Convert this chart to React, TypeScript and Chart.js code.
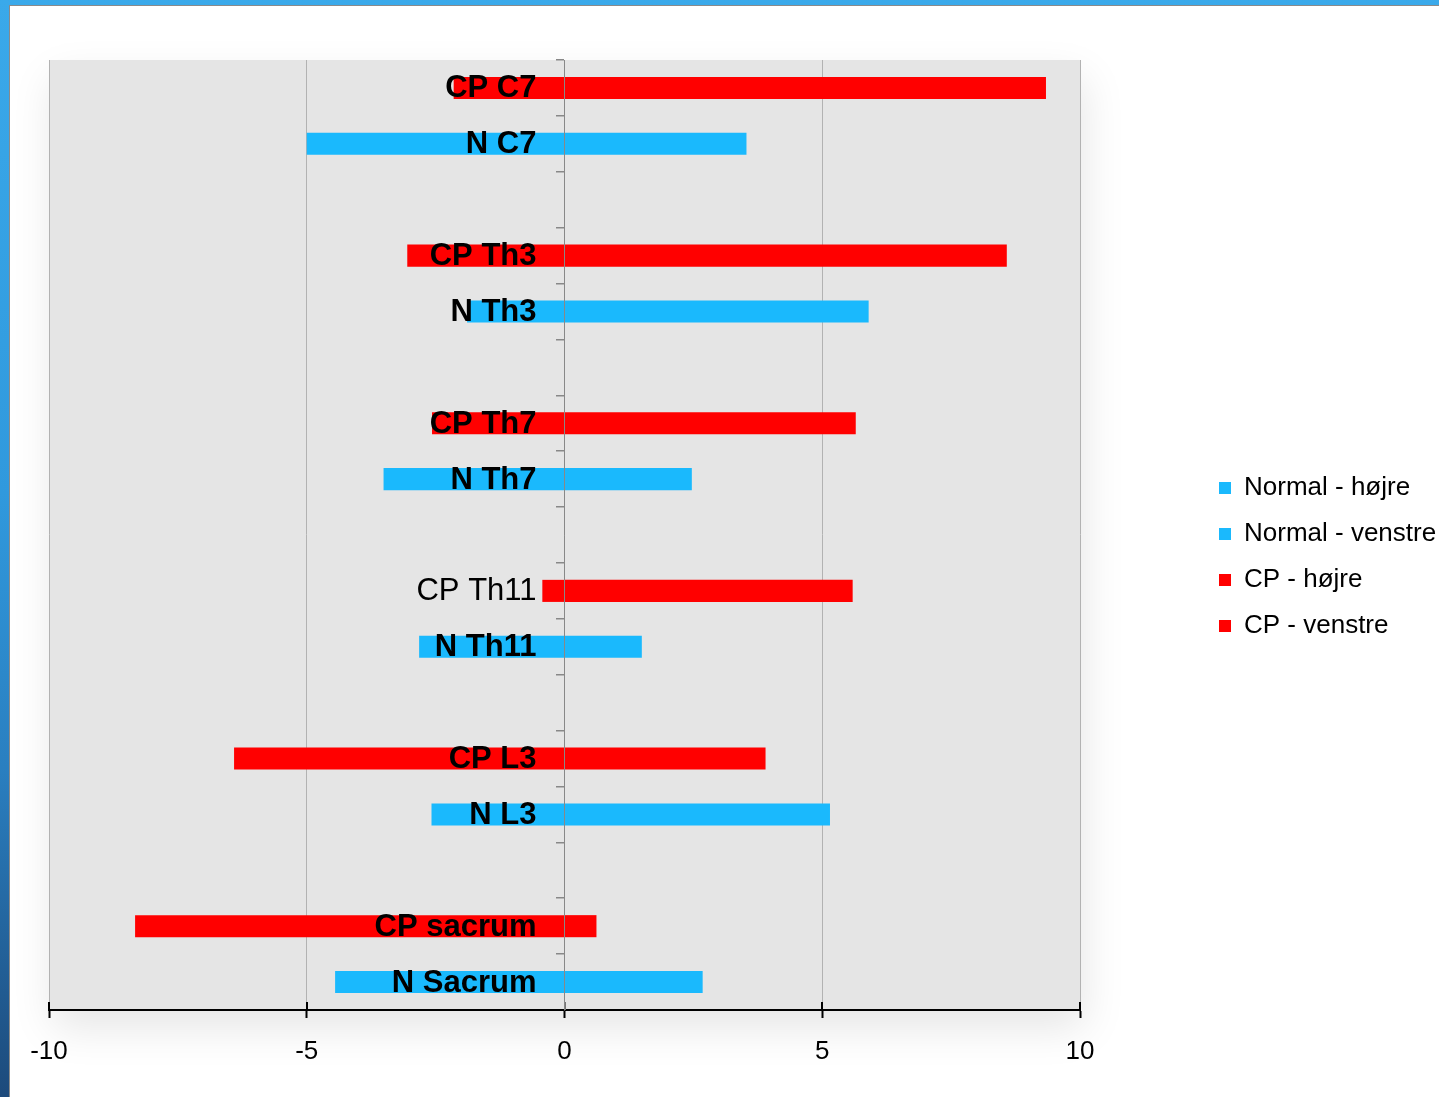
import React, { useEffect, useRef } from "react";
import { Chart, registerables } from "chart.js";

Chart.register(...registerables);

// Vertebral levels, CP and normal rows with an empty spacer row between groups
const categories = [
  "CP C7", "N C7", "",
  "CP Th3", "N Th3", "",
  "CP Th7", "N Th7", "",
  "CP Th11", "N Th11", "",
  "CP L3", "N L3", "",
  "CP sacrum", "N Sacrum",
];

const normalRight = [null, 3.53, null, null, 5.9, null, null, 2.47, null, null, 1.5, null, null, 5.15, null, null, 2.68];
const normalLeft = [null, -5.0, null, null, -1.89, null, null, -3.51, null, null, -2.82, null, null, -2.58, null, null, -4.45];
const cpRight = [9.34, null, null, 8.58, null, null, 5.65, null, null, 5.59, null, null, 3.9, null, null, 0.62, null];
const cpLeft = [-2.15, null, null, -3.05, null, null, -2.57, null, null, -0.43, null, null, -6.41, null, null, -8.33, null];

const seriesNames = ["Normal - højre", "Normal - venstre", "CP - højre", "CP - venstre"];
const xTicks = [-10, -5, 0, 5, 10];

const BLUE = "#1ab9fd";
const RED = "#ff0000";
const FONT = "'Liberation Sans', Arial, sans-serif";

// Grey plot panel with a soft drop shadow underneath
const panelPlugin = {
  id: "panel",
  afterLayout(chart: any) {
    // let the longest legend entry run to the canvas edge instead of being clipped
    if (chart.legend) chart.legend.right = chart.width;
  },
  beforeDraw(chart: any) {
    const { ctx, chartArea } = chart;
    ctx.save();
    ctx.shadowColor = "rgba(0,0,0,0.10)";
    ctx.shadowBlur = 40;
    ctx.shadowOffsetX = 4;
    ctx.shadowOffsetY = 18;
    ctx.fillStyle = "#e5e5e5";
    ctx.fillRect(chartArea.left, chartArea.top, chartArea.right - chartArea.left, chartArea.bottom - chartArea.top);
    ctx.restore();
  },
};

// Category names sit just left of the zero line, on top of the bars;
// major tick marks on the value axis cross the axis line
const overlayPlugin = {
  id: "overlay",
  afterDatasetsDraw(chart: any) {
    const { ctx, chartArea } = chart;
    const xs = chart.scales.x;
    const ys = chart.scales.y;
    const zero = xs.getPixelForValue(0);
    ctx.save();
    ctx.fillStyle = "#000";
    ctx.textAlign = "right";
    ctx.textBaseline = "middle";
    categories.forEach((name, i) => {
      if (!name) return;
      const weight = name === "CP Th11" ? "normal" : "bold";
      ctx.font = `${weight} 31px ${FONT}`;
      ctx.fillText(name, zero - 28, ys.getPixelForValue(i) + 1);
    });
    ctx.lineWidth = 2;
    for (const v of xTicks) {
      const px = Math.round(xs.getPixelForValue(v));
      ctx.strokeStyle = v === 0 ? "#777" : "#000";
      ctx.beginPath();
      ctx.moveTo(px, chartArea.bottom - 8);
      ctx.lineTo(px, chartArea.bottom);
      ctx.stroke();
    }
    ctx.restore();
  },
};

export default function App() {
  const canvasRef = useRef<HTMLCanvasElement | null>(null);

  useEffect(() => {
    const canvas = canvasRef.current;
    if (!canvas) return;
    const chart = new Chart(canvas, {
      type: "bar",
      data: {
        labels: categories,
        datasets: [
          { label: seriesNames[0], data: normalRight, backgroundColor: BLUE },
          { label: seriesNames[1], data: normalLeft, backgroundColor: BLUE },
          { label: seriesNames[2], data: cpRight, backgroundColor: RED },
          { label: seriesNames[3], data: cpLeft, backgroundColor: RED },
        ].map((d) => ({ ...d, borderWidth: 0, categoryPercentage: 0.79, barPercentage: 0.5 })),
      },
      plugins: [panelPlugin, overlayPlugin],
      options: {
        indexAxis: "y",
        animation: false,
        responsive: false,
        devicePixelRatio: 1,
        layout: { padding: { top: 46, left: 49, right: 10, bottom: 29 } },
        plugins: {
          tooltip: { enabled: false },
          legend: {
            position: "right",
            align: "center",
            labels: {
              boxWidth: 12,
              boxHeight: 12,
              padding: 20,
              color: "#000",
              font: { family: FONT, size: 26 },
            },
          },
        },
        scales: {
          x: {
            type: "linear",
            min: -10,
            max: 10,
            stacked: true,
            afterBuildTicks: (s: any) => {
              s.ticks = xTicks.map((v) => ({ value: v }));
            },
            afterFit: (s: any) => {
              s.height = 58;
            },
            ticks: {
              color: "#000",
              padding: 18,
              font: { family: FONT, size: 26 },
            },
            grid: {
              color: "#b2b2b2",
              lineWidth: 1,
              tickColor: "#000",
              tickLength: 8,
              tickWidth: 2,
            },
            border: { color: "#000", width: 2 },
          },
          y: {
            type: "category",
            position: { x: 0 } as any,
            stacked: true,
            offset: true,
            grid: {
              drawOnChartArea: false,
              offset: true,
              tickLength: 8,
              color: "#888",
              lineWidth: 1.5,
            },
            border: { color: "#888", width: 1, z: 1 },
            ticks: { display: false, autoSkip: false },
          },
          topGap: {
            type: "linear",
            position: "top",
            grid: { display: false },
            border: { display: false },
            ticks: { display: false },
            afterFit: (s: any) => {
              s.height = 14;
            },
          },
          legendGap: {
            type: "linear",
            position: "right",
            grid: { display: false },
            border: { display: false },
            ticks: { display: false },
            afterFit: (s: any) => {
              s.width = 119;
            },
          },
        },
      } as any,
    });
    return () => chart.destroy();
  }, []);

  return (
    <div
      style={{
        position: "fixed",
        left: 0,
        top: 0,
        width: 1439,
        height: 1097,
        background: "linear-gradient(to bottom, #3aa9ea 0%, #3099dd 45%, #2a7fc0 70%, #1d4a7b 100%)",
        overflow: "hidden",
      }}
    >
      <div
        style={{
          position: "absolute",
          left: 9,
          top: 5,
          right: 0,
          bottom: 0,
          background: "#ffffff",
          borderLeft: "1px solid #8a8a8a",
          borderTop: "1px solid #8a8a8a",
        }}
      />
      <canvas
        ref={canvasRef}
        width={1439}
        height={1097}
        style={{ position: "absolute", left: 0, top: 0, width: 1439, height: 1097 }}
      />
    </div>
  );
}
